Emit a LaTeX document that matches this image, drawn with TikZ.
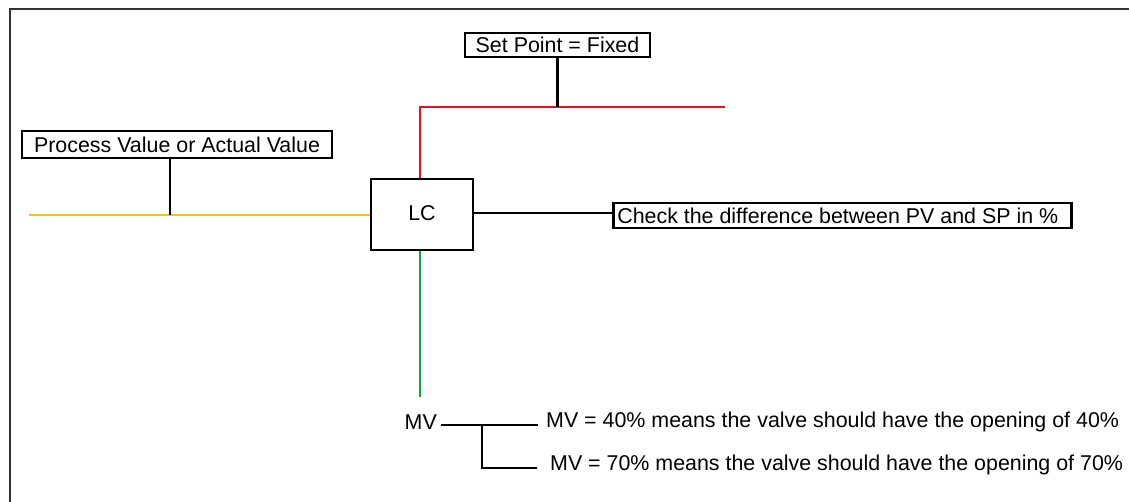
\documentclass[tikz,border=0pt]{standalone}
\usepackage{fontspec}
\setmainfont{Liberation Sans}
\definecolor{pvline}{HTML}{FFC000}
\definecolor{spline}{HTML}{E8101E}
\definecolor{mvline}{HTML}{17A04A}
\definecolor{frame}{HTML}{333333}
\newcommand{\labelfont}{\fontsize{21.4}{24}\selectfont}
\tikzset{
  tag/.style={draw=black, line width=2.6pt, fill=white, inner sep=0pt, font=\labelfont},
  ctrl/.style={draw=black, line width=2.6pt, inner sep=0pt, minimum width=102pt, minimum height=71pt, font=\labelfont},
  lead/.style={draw=black, line width=2.4pt},
  flow/.style={line width=2.4pt},
  note/.style={inner sep=0pt, font=\labelfont},
}
\begin{document}
\begin{tikzpicture}[x=1pt, y=-1pt]
\useasboundingbox (0,0) rectangle (1129,502);
% outer frame (only top and left edges fall inside the page)
\draw[frame, line width=2.8pt] (10,510) -- (10,9) -- (1140,9);

% controller
\node[ctrl] (lc) at (422,214.5) {\raisebox{2pt}{LC}};

% labels
\node[tag, minimum width=310pt, minimum height=27pt] (pv) at (177,144.5) {Process Value or Actual Value};
\node[tag, minimum width=185pt, minimum height=24pt] (sp) at (557.5,45) {Set Point = Fixed};
\node[tag, anchor=west, inner xsep=4pt, minimum height=25pt] (chk) at (612,215.5)
  {\makebox[450pt][l]{Check the difference between PV and SP in \%}};

% process value line
\coordinate (pvstart) at (29,215);
\draw[flow, pvline] (pvstart) -- (lc.west |- pvstart);
\draw[lead] ([xshift=-7pt]pv.south) -- ([xshift=-7pt]pv.south |- pvstart);

% set point line
\coordinate (spcorner) at (420,107);
\coordinate (spend) at (725,107);
\draw[flow, spline] ([xshift=-2pt]lc.north) -- (spcorner) -- (spend);
\draw[lead] (sp.south) -- (sp.south |- spend);

% controller to comparison note
\draw[lead] (lc.east |- 0,213) -- (chk.west |- 0,213);

% manipulated value
\coordinate (mvend) at (420,397);
\draw[flow, mvline] ([xshift=-2pt]lc.south) -- (mvend);

\node[note, anchor=east] (mv) at (437,422) {MV};
\node[note, anchor=west] (m1) at (546,422) {MV = 40\% means the valve should have the opening of 40\%};
\node[note, anchor=west] (m2) at (550,465) {MV = 70\% means the valve should have the opening of 70\%};

\coordinate (mvj) at (482,425);
\coordinate (b2) at (482,468);
\draw[lead] ([xshift=4pt]mv.east |- mvj) -- ([xshift=-8pt]m1.west |- mvj);
\draw[lead] (mvj) -- (b2) -- ([xshift=-13pt]m2.west |- b2);
\end{tikzpicture}
\end{document}
